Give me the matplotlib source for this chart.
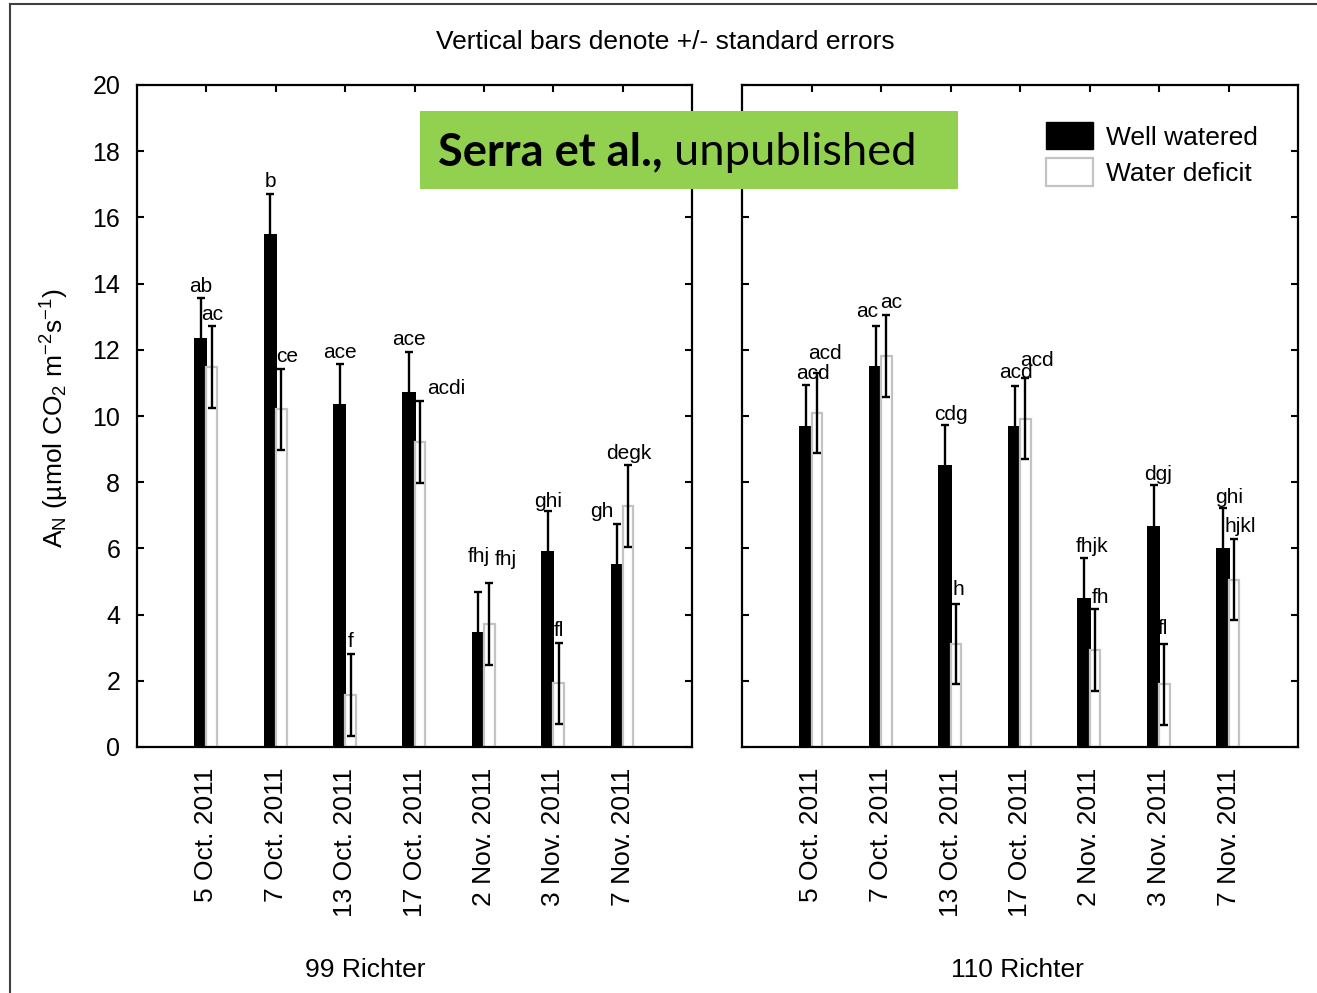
import matplotlib
matplotlib.use('Agg')
import matplotlib.pyplot as plt
import numpy as np
from matplotlib.patches import Rectangle, Patch
from matplotlib.lines import Line2D

plt.rcParams['font.family'] = ['Liberation Sans', 'DejaVu Sans']
plt.rcParams['mathtext.fontset'] = 'custom'
plt.rcParams['mathtext.rm'] = 'Liberation Sans'
plt.rcParams['mathtext.it'] = 'Liberation Sans:italic'
plt.rcParams['mathtext.bf'] = 'Liberation Sans:bold'

# ---------------- data ----------------
dates = ['5 Oct. 2011', '7 Oct. 2011', '13 Oct. 2011', '17 Oct. 2011',
         '2 Nov. 2011', '3 Nov. 2011', '7 Nov. 2011']
series_names = ['Well watered', 'Water deficit']
panel_names = ['99 Richter', '110 Richter']

ww_99 = [12.37, 15.50, 10.36, 10.71, 3.48, 5.92, 5.53]
ww_99_se = [1.21, 1.21, 1.21, 1.21, 1.19, 1.22, 1.21]
wd_99 = [11.49, 10.20, 1.57, 9.21, 3.72, 1.92, 7.28]
wd_99_se = [1.24, 1.23, 1.25, 1.23, 1.24, 1.23, 1.23]

ww_110 = [9.71, 11.51, 8.52, 9.71, 4.49, 6.68, 6.02]
ww_110_se = [1.22, 1.22, 1.21, 1.20, 1.22, 1.23, 1.21]
wd_110 = [10.08, 11.81, 3.11, 9.92, 2.93, 1.89, 5.06]
wd_110_se = [1.21, 1.24, 1.22, 1.23, 1.23, 1.23, 1.23]

ww_99_lab = ['ab', 'b', 'ace', 'ace', 'fhj', 'ghi', 'gh']
wd_99_lab = ['ac', 'ce', 'f', 'acdi', 'fhj', 'fl', 'degk']
ww_110_lab = ['acd', 'ac', 'cdg', 'acd', 'fhjk', 'dgj', 'ghi']
wd_110_lab = ['acd', 'ac', 'h', 'acd', 'fh', 'fl', 'hjkl']

# label offsets in pixels (dx, gap above error bar top)
ww_99_dx = [0, 0, 0, 0, 0, 0, -15]
ww_99_gap = [6, 7, 6, 7, 30, 3.5, 7]
wd_99_dx = [0, 6, 0, 26, 16, 0, 1]
wd_99_gap = [6, 7, 7, 7, 18, 7, 6]
ww_110_dx = [7, -8, 6, 1, 8, 5, 6]
ww_110_gap = [6, 9, 5, 8, 6, 5, 5]
wd_110_dx = [8, 5, 2, 11, 6, -2, 6]
wd_110_gap = [14, 7, 9, 12, 6, 10, 7]

# ---------------- figure ----------------
W, H = 1317, 993
fig = plt.figure(figsize=(W / 100, H / 100), dpi=100)


def fx(px):
    return px / W


def fy(py):
    return 1 - py / H


ax1 = fig.add_axes([fx(137), fy(747), (692 - 137) / W, (747 - 85) / H])
ax2 = fig.add_axes([fx(742), fy(747), (1298 - 742) / W, (747 - 85) / H])

GREY = '#c3c3c3'
PX = 0.72  # points per pixel


def draw_panel(ax, ww, ww_se, wd, wd_se, lab_ww, lab_wd, dx_ww, gap_ww, dx_wd, gap_wd):
    x = np.arange(1, len(dates) + 1)
    off = 0.079
    ax.bar(x - off, ww, width=0.19, color='black', edgecolor='black', linewidth=0, zorder=2)
    ax.errorbar(x - off, ww, yerr=ww_se, fmt='none', ecolor='black',
                elinewidth=1.7, capsize=3, capthick=1.7, zorder=3)
    ax.bar(x + off, wd, width=0.155, facecolor='white', edgecolor=GREY,
           linewidth=1.6, zorder=4)
    ax.errorbar(x + off, wd, yerr=wd_se, fmt='none', ecolor='black',
                elinewidth=1.7, capsize=3, capthick=1.7, zorder=5)
    for i in range(len(x)):
        ax.annotate(lab_ww[i], (x[i] - off, ww[i] + ww_se[i]),
                    xytext=(dx_ww[i] * PX, gap_ww[i] * PX), textcoords='offset points',
                    ha='center', va='baseline', fontsize=15, zorder=6)
        ax.annotate(lab_wd[i], (x[i] + off, wd[i] + wd_se[i]),
                    xytext=(dx_wd[i] * PX, gap_wd[i] * PX), textcoords='offset points',
                    ha='center', va='baseline', fontsize=15, zorder=6)
    ax.set_xlim(0, len(dates) + 1)
    ax.set_ylim(0, 20)
    ax.set_yticks(np.arange(0, 21, 2))
    ax.set_xticks(x)
    ax.set_xticklabels(dates, rotation=90, fontsize=19)
    ax.tick_params(axis='both', direction='in', top=True, right=True,
                   length=5, width=1.5, labelsize=18)
    ax.tick_params(axis='x', pad=15, labelsize=19)
    ax.tick_params(axis='y', pad=12)
    for s in ax.spines.values():
        s.set_linewidth(1.6)
        s.set_zorder(7)


draw_panel(ax1, ww_99, ww_99_se, wd_99, wd_99_se, ww_99_lab, wd_99_lab,
           ww_99_dx, ww_99_gap, wd_99_dx, wd_99_gap)
draw_panel(ax2, ww_110, ww_110_se, wd_110, wd_110_se, ww_110_lab, wd_110_lab,
           ww_110_dx, ww_110_gap, wd_110_dx, wd_110_gap)
ax2.tick_params(axis='y', labelleft=False)

# y label
fig.text(fx(55), fy(418),
         r'A$_\mathregular{N}$ (µmol CO$_\mathregular{2}$ m$^\mathregular{-2}$s$^\mathregular{-1}$)',
         rotation=90, ha='center', va='center', fontsize=19)

# title
fig.text(fx(665), fy(42), 'Vertical bars denote +/- standard errors',
         ha='center', va='center', fontsize=19)

# panel names
fig.text(fx(365), fy(970), panel_names[0], ha='center', va='center', fontsize=19)
fig.text(fx(1017), fy(970), panel_names[1], ha='center', va='center', fontsize=19)

# legend
handles = [Patch(facecolor='black', edgecolor='black'),
           Patch(facecolor='white', edgecolor=GREY, linewidth=1.6)]
ax2.legend(handles, series_names, loc='upper left',
           bbox_to_anchor=(fx(1046), fy(122)), bbox_transform=fig.transFigure,
           frameon=False, fontsize=19, handlelength=1.78, handleheight=1.22,
           handletextpad=0.5, labelspacing=0.33, borderpad=0, borderaxespad=0)

# green watermark box
fig.add_artist(Rectangle((fx(420), fy(189)), (958 - 420) / W, (189 - 111) / H,
                         transform=fig.transFigure, facecolor='#92D050',
                         edgecolor='none', zorder=10))
fs = 30
t1 = fig.text(fx(438), fy(165), 'Serra et al.,', fontweight='bold', family='Lato',
              fontsize=fs, va='baseline', ha='left', zorder=11)
t2 = fig.text(fx(600), fy(165), 'unpublished', family='Lato',
              fontsize=fs, va='baseline', ha='left', zorder=11)
fig.canvas.draw()
r = fig.canvas.get_renderer()
w1 = t1.get_window_extent(r).width
w2 = t2.get_window_extent(r).width
gap = 0.25 * fs / PX
scale = 477 / (w1 + w2 + gap)
fs2 = fs * scale
t1.set_fontsize(fs2)
t2.set_fontsize(fs2)
fig.canvas.draw()
w1 = t1.get_window_extent(r).width
t2.set_x(fx(438 + w1 + 0.25 * fs2 / PX))

# figure frame (top and left edges)
fig.add_artist(Line2D([fx(10), 1], [fy(4), fy(4)], transform=fig.transFigure,
                      color='#404040', lw=1.5, zorder=12))
fig.add_artist(Line2D([fx(10), fx(10)], [fy(4), 0], transform=fig.transFigure,
                      color='#404040', lw=1.5, zorder=12))

fig.savefig('out.png', dpi=100)
